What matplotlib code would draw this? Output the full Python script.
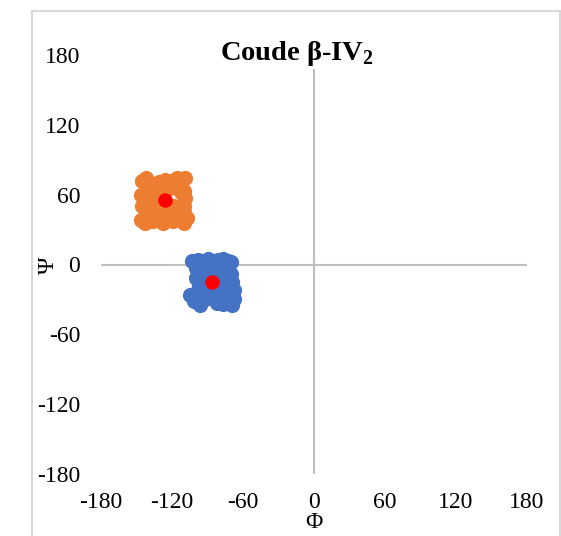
import matplotlib.pyplot as plt
from matplotlib.patches import Rectangle

plt.rcParams['font.family'] = ['Liberation Serif', 'DejaVu Serif']
plt.rcParams['mathtext.fontset'] = 'custom'
plt.rcParams['mathtext.rm'] = 'Liberation Serif'
plt.rcParams['mathtext.bf'] = 'Liberation Serif:bold'
plt.rcParams['axes.unicode_minus'] = False

# coude beta-IV2 (phi, psi) - residue i+1
phi_1 = [-145, -142, -139, -135, -131, -126, -121, -116, -112, -109,
         -146, -143, -140, -136, -132, -128, -123, -119, -114, -110, -107,
         -144, -140, -134, -112, -109, -143, -138, -131, -124, -113, -110,
         -142, -136, -129, -121,
         -140, -135, -133, -128, -122, -116, -110, -138, -128, -122,
         -114, -110, -118, -140, -145, -146]
psi_1 = [72, 74, 70, 66, 71, 73, 72, 74, 73, 74,
         38, 36, 40, 37, 39, 36, 38, 37, 39, 36, 40,
         60, 56, 62, 62, 57, 48, 45, 50, 44, 47, 50,
         55, 52, 46, 46,
         65, 58, 48, 42, 44, 42, 45, 52, 65, 66,
         66, 63, 50, 44, 50, 60]

# residue i+2
phi_2 = [-103, -98, -94, -90, -85, -81, -77, -73, -70,
         -96, -95, -97, -94,
         -105, -101, -96, -92, -87, -82, -77, -73, -69, -68,
         -70, -69, -68, -72, -88, -84, -78, -80, -91,
         -100, -92, -85, -78, -72, -75, -74, -80, -86, -94,
         -98, -100, -84, -78]
psi_2 = [3, 4, 2, 5, 3, 4, 5, 3, 2,
         -5, -12, -18, -24,
         -26, -31, -35, -30, -29, -33, -34, -32, -35, -30,
         -8, -15, -22, -26, -10, -20, -8, -22, -17,
         -3, -2, -5, -3, -10, -18, -25, -28, -24, -28,
         -22, -12, -12, -12]

# mean positions
phi_m = [-126, -86]
psi_m = [55, -15]

ticks = [-180, -120, -60, 0, 60, 120, 180]

fig = plt.figure(figsize=(5.61, 5.36), dpi=100)
fig.patches.append(Rectangle((31.5 / 561, -0.1), (560 - 31.5) / 561, 1.1 - 11.5 / 536,
                             transform=fig.transFigure, fill=False,
                             edgecolor='#d9d9d9', linewidth=1.5, zorder=0))

ax = fig.add_axes([101 / 561, 1 - 474 / 536, 426 / 561, 419 / 536])
ax.set_xlim(-180, 180)
ax.set_ylim(-180, 180)
for s in ax.spines.values():
    s.set_visible(False)
ax.axhline(0, color='#bfbfbf', lw=1.5, zorder=1)
ax.axvline(0, color='#bfbfbf', lw=1.5, zorder=1)

ax.scatter(phi_1, psi_1, s=120, color='#ed7d31', linewidths=0, zorder=2)
ax.scatter(phi_2, psi_2, s=120, color='#4472c4', linewidths=0, zorder=2)
ax.scatter(phi_m, psi_m, s=110, color='#ff0000', linewidths=0, zorder=3)

ax.set_xticks(ticks)
ax.set_yticks(ticks)
ax.tick_params(length=0, labelsize=17)
ax.tick_params(axis='y', pad=15)
ax.tick_params(axis='x', pad=13)

fig.text(48 / 561, 1 - 265 / 536, 'Ψ', rotation=90, fontsize=17,
         ha='center', va='center')
fig.text(314 / 561, 1 - 523 / 536, 'Φ', fontsize=17, ha='center', va='center')
fig.text(297 / 561, 1 - 53 / 536, r'Coude β-IV$_\mathbf{2}$', fontsize=20.5,
         fontweight='bold', ha='center', va='center',
         bbox=dict(facecolor='white', edgecolor='none', pad=1))

fig.savefig('out.png', dpi=100)
